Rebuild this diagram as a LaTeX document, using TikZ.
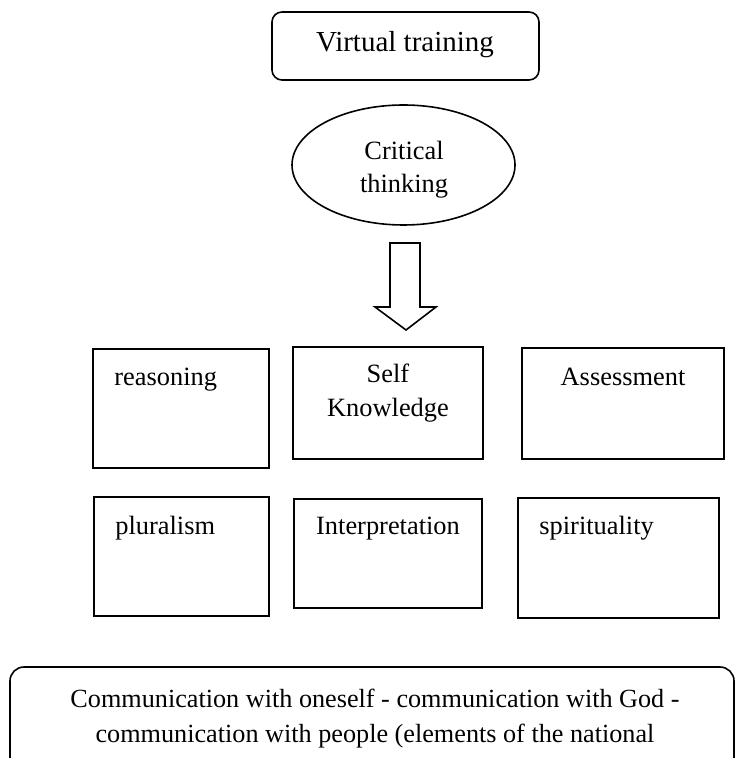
\documentclass[tikz,border=0pt]{standalone}
\usepackage{fontspec}
\setmainfont{Liberation Serif}
\usetikzlibrary{shapes.geometric}
\begin{document}
\begin{tikzpicture}[x=0.5pt,y=-0.5pt,
  txt/.style={inner sep=0pt,font=\fontsize{13.2}{17}\selectfont,align=center},
  sqbox/.style={draw,line width=0.8pt,inner sep=0pt},
  rbox/.style={draw,line width=0.8pt,rounded corners=5pt,inner sep=0pt}]
\useasboundingbox (0,0) rectangle (735,758);
\clip (0,0) rectangle (735,758);
% top rounded box
\node[rbox,minimum width=133.5pt,minimum height=34pt] (vt) at (405.5,46) {};
\node[txt,font=\fontsize{14.5}{17}\selectfont] (vtt) at (405,45) {Virtual training};
% ellipse
\node[draw,ellipse,line width=0.8pt,minimum width=111.5pt,minimum height=60pt,inner sep=0pt] (ct) at (403.5,165) {};
\node[txt,font=\fontsize{13.2}{16.5}\selectfont] (ctt) at (404,170) {Critical\\thinking};
% block arrow
\draw[line width=0.8pt,line join=miter] (390,243) -- (420,243) -- (420,307) -- (436,307) -- (406,330) -- (375,307) -- (390,307) -- cycle;
% row 1 boxes
\node[sqbox,minimum width=88pt,minimum height=59.5pt] (rea) at (181,408.5) {};
\node[sqbox,minimum width=95pt,minimum height=56pt] (sk) at (388,403) {};
\node[sqbox,minimum width=101pt,minimum height=55.5pt] (as) at (623,403.5) {};
% row 2 boxes
\node[sqbox,minimum width=87.5pt,minimum height=59.5pt] (plu) at (181.5,556.5) {};
\node[sqbox,minimum width=94pt,minimum height=54.5pt] (int) at (388,553.5) {};
\node[sqbox,minimum width=100.5pt,minimum height=60pt] (spi) at (618.5,558) {};
% texts row 1
\node[txt,anchor=base west] (reat) at (114,385) {reasoning};
\node[txt] (skt) at (388,393) {Self\\Knowledge};
\node[txt,anchor=base] (ast) at (623,385) {Assessment};
% texts row 2
\node[txt,anchor=base west] (plut) at (115,534) {pluralism};
\node[txt,anchor=base] (intt) at (388,534) {Interpretation};
\node[txt,anchor=base west] (spit) at (539,534) {spirituality};
% bottom box
\draw[line width=0.8pt,rounded corners=7pt] (10,667) rectangle (734,800);
\node[txt,font=\fontsize{13.1}{17.5}\selectfont] (bt) at (375,719) {Communication with oneself - communication with God -\\communication with people (elements of the national};
\end{tikzpicture}
\end{document}
